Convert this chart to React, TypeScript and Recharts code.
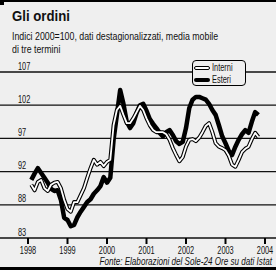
import React from "react";
import { LineChart, Line, XAxis, YAxis, CartesianGrid } from "recharts";

// mesi contati da gennaio 1998 (0); la serie parte da febbraio 1998
const firstMonth = 1;

const interni = [
  90.7, 89.9, 91.1, 91.4, 90.2, 89.8, 90.7, 91.0, 91.1, 90.2,
  88.5, 87.2, 86.8, 88.2, 88.2, 89.2, 90.2, 91.7, 93.1, 94.3,
  93.6, 94.0, 93.4, 94.0, 94.3, 99.3, 101.5, 102.1, 100.8, 99.6,
  99.6, 100.3, 101.2, 102.1, 101.5, 100.3, 99.3, 98.6, 98.3, 98.3,
  98.3, 98.0, 97.2, 96.0, 95.0, 94.1, 94.7, 96.2, 97.2, 97.3,
  97.0, 97.5, 98.3, 99.2, 99.6, 98.3, 96.7, 96.2, 96.0, 95.7,
  94.9, 93.6, 93.3, 94.3, 95.4, 95.9, 96.2, 97.3, 98.2, 97.6,
];

const esteri = [
  91.4, 92.3, 93.1, 92.4, 91.7, 91.0, 90.1, 89.8, 89.9, 88.5,
  85.9, 85.6, 84.7, 84.9, 86.0, 86.8, 87.5, 88.2, 88.6, 89.4,
  89.9, 90.5, 91.8, 91.0, 91.7, 97.2, 100.8, 104.4, 102.4, 99.8,
  98.9, 99.6, 101.1, 102.2, 102.4, 101.4, 100.2, 99.5, 98.9, 98.2,
  97.7, 98.3, 98.6, 97.9, 97.0, 96.6, 96.9, 98.9, 101.8, 103.0,
  103.4, 103.4, 103.2, 103.0, 102.4, 101.5, 100.8, 99.3, 97.7, 96.7,
  95.6, 95.0, 96.2, 97.2, 98.0, 98.6, 98.2, 99.8, 101.2, 100.8,
];

const years = ["1998", "1999", "2000", "2001", "2002", "2003", "2004"];
const yTicks = [83, 87.8, 92.6, 97.4, 102.2, 107];
const yTickLabels = ["83", "88", "92", "97", "102", "107"];

const data = interni.map((v, i) => ({ t: firstMonth + i, interni: v, esteri: esteri[i] }));
const xTicks = years.map((_, i) => i * 12);

const FONT = '"Liberation Sans", Arial, sans-serif';
const BG = "#efefef";
const NARROW = 0.74;

function YTick(props: any) {
  const { y, index } = props;
  return (
    <text transform={`translate(18,${y - 2.5}) scale(${NARROW},1)`} fontSize={10} fontFamily={FONT} fill="#111">
      {yTickLabels[index]}
    </text>
  );
}

function XTick(props: any) {
  const { x, payload } = props;
  return (
    <text transform={`translate(${x},253.5) scale(${NARROW},1)`} textAnchor="middle" fontSize={10} fontFamily={FONT} fill="#111">
      {years[Math.round(payload.value / 12)]}
    </text>
  );
}

function GridLine(props: any) {
  return (
    <line
      key={`g-${props.index}-${props.y1}`}
      x1={0}
      x2={276}
      y1={props.y1}
      y2={props.y2}
      stroke="#111"
      strokeWidth={1.3}
    />
  );
}

const narrowText = (origin: string, k: number = NARROW): React.CSSProperties => ({
  transform: `scaleX(${k})`,
  transformOrigin: origin,
  whiteSpace: "nowrap",
});

export default function App() {
  return (
    <div style={{ position: "absolute", left: 0, top: 0, width: 276, height: 270, background: BG, overflow: "hidden", fontFamily: FONT, color: "#111" }}>
      <div style={{ position: "absolute", left: 0, top: 0, width: 276, height: 2, background: "#000" }} />
      <div style={{ position: "absolute", left: 0, top: 0, width: 4, height: 5, background: "#000" }} />
      <div style={{ position: "absolute", left: 12, top: 7, fontSize: 15, fontWeight: 700, lineHeight: "18px", ...narrowText("left", 0.88) }}>
        Gli ordini
      </div>
      <div style={{ position: "absolute", left: 12, top: 30, fontSize: 11, lineHeight: "13px", ...narrowText("left", 0.8) }}>
        Indici 2000=100, dati destagionalizzati, media mobile
        <br />
        di tre termini
      </div>

      <div style={{ position: "absolute", left: 0, top: 0 }}>
        <LineChart width={276} height={270} data={data} margin={{ top: 72, right: 11, left: 0, bottom: 0 }}>
          <CartesianGrid vertical={false} horizontal={GridLine} />
          <XAxis
            type="number"
            dataKey="t"
            domain={[0, 72]}
            ticks={xTicks}
            axisLine={false}
            tickLine={{ stroke: "#000", strokeWidth: 2 }}
            tickSize={6}
            height={32}
            tick={<XTick />}
          />
          <YAxis
            type="number"
            domain={[83, 107]}
            ticks={yTicks}
            width={28}
            axisLine={false}
            tickLine={false}
            tick={<YTick />}
          />
          <Line type="linear" dataKey="esteri" stroke="#000" strokeWidth={4.5} strokeLinejoin="round" dot={false} isAnimationActive={false} />
          <Line type="linear" dataKey="interni" stroke="#000" strokeWidth={4} strokeLinejoin="round" dot={false} isAnimationActive={false} legendType="none" />
          <Line type="linear" dataKey="interni" stroke="#fff" strokeWidth={1.8} strokeLinejoin="round" dot={false} isAnimationActive={false} />
        </LineChart>
      </div>

      <div style={{ position: "absolute", left: 192, top: 60, width: 52, height: 24, border: "1.5px solid #000", borderRadius: 4, background: BG, fontSize: 10, lineHeight: "11px" }}>
        <div style={{ position: "absolute", left: 1, top: 1, display: "flex", alignItems: "center" }}>
          <span style={{ display: "inline-block", width: 14, height: 2, border: "1px solid #000", borderRadius: 2, background: "#fff", marginRight: 2 }} />
          <span style={narrowText("left")}>Interni</span>
        </div>
        <div style={{ position: "absolute", left: 1, top: 13, display: "flex", alignItems: "center" }}>
          <span style={{ display: "inline-block", width: 16, height: 4, borderRadius: 2, background: "#000", marginRight: 2 }} />
          <span style={narrowText("left")}>Esteri</span>
        </div>
      </div>

      <div style={{ position: "absolute", right: 4, top: 257, fontSize: 10, fontStyle: "italic", lineHeight: "10px", ...narrowText("right", 0.81) }}>
        Fonte: Elaborazioni del Sole-24 Ore su dati Istat
      </div>
      <div style={{ position: "absolute", left: 0, top: 267, width: 276, height: 3, background: "#000" }} />
    </div>
  );
}
